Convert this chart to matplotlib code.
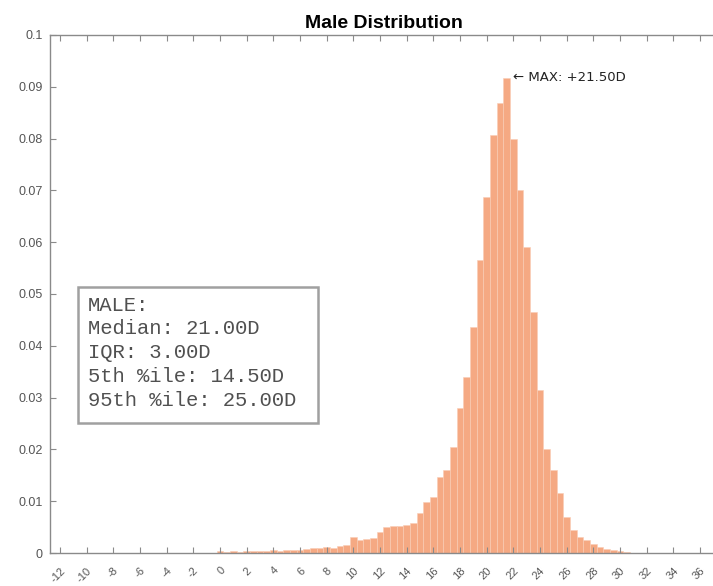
import numpy as np
import matplotlib.pyplot as plt
from matplotlib.patches import Rectangle

# histogram bins (diopters, 0.5D wide) and fraction of eyes per bin
bin_centers = np.arange(0.0, 31.0, 0.5)
bin_fraction = [0.0003, 0.0002, 0.0003, 0.0002, 0.0004, 0.0003, 0.0004, 0.0003,
                0.0005, 0.0004, 0.0006, 0.0005, 0.0006, 0.0007, 0.0009, 0.0010,
                0.0011, 0.0010, 0.0014, 0.0016, 0.0030, 0.0026, 0.0028, 0.0029,
                0.0040, 0.0050, 0.0053, 0.0053, 0.0055, 0.0058, 0.0077, 0.0098,
                0.0108, 0.0147, 0.0160, 0.0205, 0.0280, 0.0340, 0.0436, 0.0566,
                0.0687, 0.0807, 0.0869, 0.0917, 0.0800, 0.0700, 0.0590, 0.0465,
                0.0315, 0.0200, 0.0160, 0.0116, 0.0070, 0.0044, 0.0030, 0.0025,
                0.0018, 0.0012, 0.0008, 0.0005, 0.0003, 0.0002]

x_ticks = np.arange(-12, 38, 2)
y_ticks = [0, 0.01, 0.02, 0.03, 0.04, 0.05, 0.06, 0.07, 0.08, 0.09, 0.1]
y_tick_labels = ['0', '0.01', '0.02', '0.03', '0.04', '0.05', '0.06', '0.07', '0.08', '0.09', '0.1']

stats_lines = ['MALE:', 'Median: 21.00D', 'IQR: 3.00D', '5th %ile: 14.50D', '95th %ile: 25.00D']
max_label = '\u2190 MAX: +21.50D'

bar_color = '#F5A983'
axis_color = '#8a8a8a'

fig = plt.figure(figsize=(7.13, 5.86), dpi=100)
ax = fig.add_axes([0.070, 0.0563, 0.937, 0.884])

ax.bar(bin_centers, bin_fraction, width=0.5, color=bar_color,
       edgecolor='#F9CDB6', linewidth=0.4)

ax.set_xlim(-12.75, 37.35)
ax.set_ylim(0, 0.1)
ax.set_xticks(x_ticks)
ax.set_xticklabels([str(t) for t in x_ticks], rotation=45, ha='right',
                   rotation_mode='anchor', fontsize=8, color='#555555', family='Liberation Sans')
ax.set_yticks(y_ticks)
ax.set_yticklabels(y_tick_labels, fontsize=9, color='#555555', family='Liberation Sans')
ax.tick_params(direction='in', length=4, width=0.8, color=axis_color,
               top=True, right=False)
ax.tick_params(axis='x', pad=9)
ax.tick_params(axis='y', pad=5)
for s in ax.spines.values():
    s.set_color(axis_color)
    s.set_linewidth(1.0)
ax.spines['right'].set_visible(False)

ax.set_title('Male Distribution', fontsize=14, fontweight='bold',
             family='Liberation Sans', pad=5)

# peak marker
i_max = int(np.argmax(bin_fraction))
ax.text(bin_centers[i_max] + 0.45, bin_fraction[i_max], max_label, fontsize=9.5,
        va='center', ha='left', color='#222222', family='DejaVu Sans')

# stats box
ax.add_patch(Rectangle((0.042, 0.251), 0.360, 0.2625, transform=ax.transAxes,
                       facecolor='white', edgecolor='#a0a0a0', linewidth=1.8, zorder=4))
ax.text(0.057, 0.497, '\n'.join(stats_lines), transform=ax.transAxes,
        family='Liberation Mono', fontsize=14.8, color='#505050',
        va='top', ha='left', linespacing=1.32, zorder=5)

fig.savefig('out.png', dpi=100)
